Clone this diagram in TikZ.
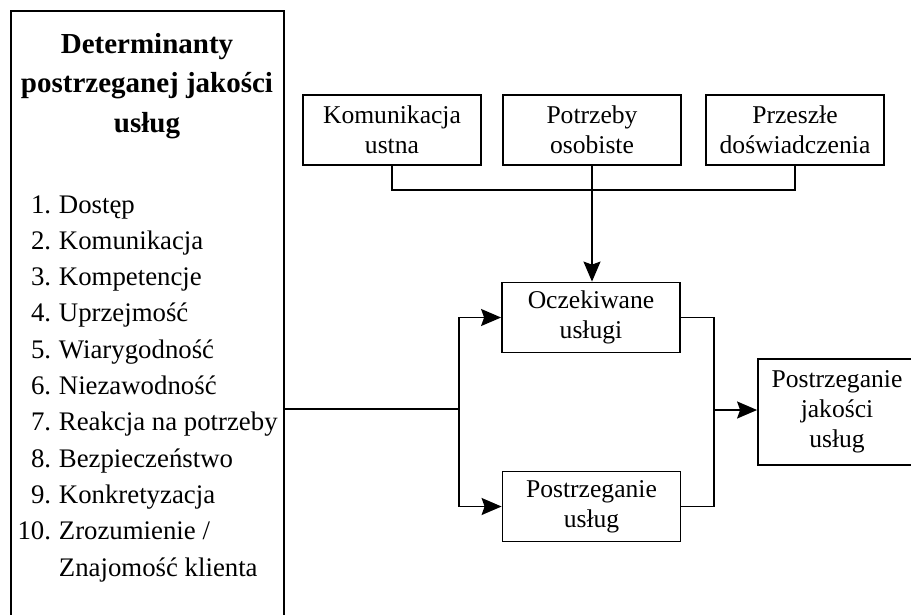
\documentclass[tikz,border=0pt]{standalone}
\usepackage{fontspec}
\setmainfont{Liberation Serif}
\usetikzlibrary{arrows.meta, positioning, calc}

\begin{document}
\begin{tikzpicture}[
  x=1pt, y=-1pt,
  every path/.style={line width=1.8pt},
  box/.style={draw, line width=1.8pt, minimum width=178pt, minimum height=70pt, align=center,
    inner sep=2pt, font=\fontsize{25.6}{30}\selectfont},
  item/.style={inner sep=0pt, font=\fontsize{26.8}{30}\selectfont},
  arr/.style={-{Stealth[length=20pt, width=17pt, inset=3pt]}},
]
  \useasboundingbox (0,0) rectangle (911,614);

  % left panel
  \node[draw, line width=1.8pt, minimum width=273pt, minimum height=640pt, anchor=north west, inner sep=0pt] (det) at (10,10) {};
  \node[align=center, inner sep=0pt, font=\fontsize{29}{39.5}\selectfont\bfseries] (tit) at (147,86) {Determinanty\\postrzeganej jakości\\usług};
  \foreach \t [count=\i] in {Dostęp, Komunikacja, Kompetencje, Uprzejmość, Wiarygodność,
      Niezawodność, Reakcja na potrzeby, Bezpieczeństwo, Konkretyzacja, Zrozumienie /} {
    \node[item, anchor=base east] (num\i) at (52, {213+36.3*(\i-1)}) {\i.};
    \node[item, anchor=base west] (itm\i) at (58, {213+36.3*(\i-1)}) {\t};
  }
  \node[item, anchor=base west] (itm11) at (58, {213+36.3*10}) {Znajomość klienta};

  % top row
  \node[box] (kom) at (392,130) {Komunikacja\\ustna};
  \node[box] (potrz) at (592,130) {Potrzeby\\osobiste};
  \node[box] (przesz) at (795,130) {Przeszłe\\doświadczenia};

  % middle
  \node[box] (ocz) at (591,317.5) {Oczekiwane\\usługi};
  \node[box] (postu) at (591.5,506.5) {Postrzeganie\\usług};
  \node[box, minimum width=158pt, minimum height=106pt] (jak) at (837,412) {Postrzeganie\\jakości\\usług};

  \coordinate (bus) at (592,190);
  \coordinate (split) at (459,409);
  \coordinate (merge) at (714,410);

  \draw (kom.south) |- (bus) -| (przesz.south);
  \draw[arr] (potrz.south) -- (potrz.south |- ocz.north);
  \draw (det.east |- split) -- (split);
  \draw[arr] (split) |- (ocz.west);
  \draw[arr] (split) |- (postu.west);
  \draw (ocz.east) -| (merge);
  \draw (postu.east) -| (merge);
  \draw[arr] (merge) -- (merge -| jak.west);
\end{tikzpicture}
\end{document}
